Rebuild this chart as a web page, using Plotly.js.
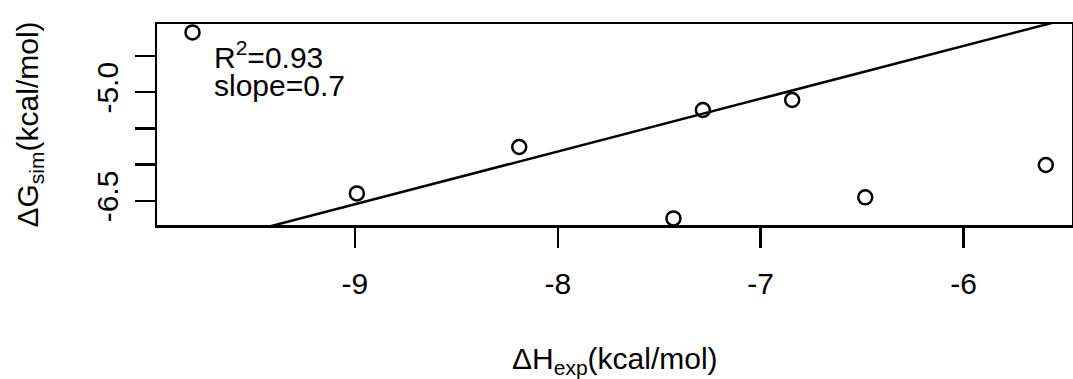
<!DOCTYPE html>
<html>
<head>
<meta charset="utf-8">
<script src="https://cdn.plot.ly/plotly-3.0.1.min.js"></script>
<style>html,body{margin:0;padding:0;background:#fff;}#chart{width:1073px;height:379px;}</style>
</head>
<body>
<div id="chart"></div>
<script>
// Data
const dHexp = [-9.80, -8.99, -8.19, -7.43, -7.285, -6.845, -6.485, -5.595];
const dGsim = [-4.175, -6.395, -5.755, -6.74, -5.245, -5.107, -6.45, -6.003];
const fitSlope = 0.728;
const fitIntercept = 0.007;
const fitX = [-10.2, -5.2];
const fitY = fitX.map(x => fitSlope * x + fitIntercept);
const xTickVals = [-9, -8, -7, -6];
const xTickText = ['-9', '-8', '-7', '-6'];
const yTickVals = [-4.5, -5.0, -5.5, -6.0, -6.5];
const yTickText = ['', '-5.0', '', '', '-6.5'];
const statLine1 = 'R<sup>2</sup>=0.93';
const statLine2 = 'slope=0.7';
const xTitle = 'ΔH<sub>exp</sub>(kcal/mol)';
const yTitle = 'ΔG<sub>sim</sub>(kcal/mol)';

const FONT = 'Liberation Sans, Arial, Helvetica, sans-serif';
const FS = 30;

const traces = [
  {x: fitX, y: fitY, mode: 'lines', line: {color: '#000', width: 2.5}, hoverinfo: 'skip', showlegend: false},
  {x: dHexp, y: dGsim, mode: 'markers', showlegend: false,
   marker: {symbol: 'circle-open', size: 14, color: '#000', line: {color: '#000', width: 2.5}}}
];

const layout = {
  width: 1073, height: 379,
  margin: {l: 157, r: 1, t: 24, b: 154},
  paper_bgcolor: '#fff', plot_bgcolor: '#fff',
  font: {family: FONT, size: FS, color: '#000'},
  showlegend: false,
  xaxis: {
    range: [-9.975, -5.466], tickvals: xTickVals, ticktext: xTickText,
    ticks: 'outside', ticklen: 20, tickwidth: 2.5, tickcolor: '#000',
    showline: true, linecolor: '#000', linewidth: 2.5, mirror: true,
    showgrid: false, zeroline: false, ticklabelstandoff: 10,
    tickfont: {family: FONT, size: FS, color: '#000'}
  },
  yaxis: {
    range: [-6.831, -4.059], tickvals: yTickVals, ticktext: yTickText,
    ticks: 'outside', ticklen: 20, tickwidth: 2.5, tickcolor: '#000',
    showline: true, linecolor: '#000', linewidth: 2.5, mirror: true,
    showgrid: false, zeroline: false, tickangle: -90, ticklabelstandoff: 5,
    tickfont: {family: FONT, size: FS, color: '#000'}
  },
  annotations: [
    {text: statLine1, x: -9.704, y: -4.486, xref: 'x', yref: 'y', xanchor: 'left', yanchor: 'middle',
     showarrow: false, font: {family: FONT, size: FS, color: '#000'}},
    {text: statLine2, x: -9.704, y: -4.907, xref: 'x', yref: 'y', xanchor: 'left', yanchor: 'middle',
     showarrow: false, font: {family: FONT, size: FS, color: '#000'}},
    {text: xTitle, x: 0.5, y: 0, xref: 'paper', yref: 'paper', xanchor: 'center', yanchor: 'middle',
     yshift: -135, showarrow: false, font: {family: FONT, size: FS, color: '#000'}},
    {text: yTitle, x: 0, y: 0.5, xref: 'paper', yref: 'paper', xanchor: 'center', yanchor: 'middle',
     xshift: -128, textangle: -90, showarrow: false, font: {family: FONT, size: FS, color: '#000'}}
  ]
};

Plotly.newPlot('chart', traces, layout, {displayModeBar: false, staticPlot: true});
</script>
</body>
</html>
